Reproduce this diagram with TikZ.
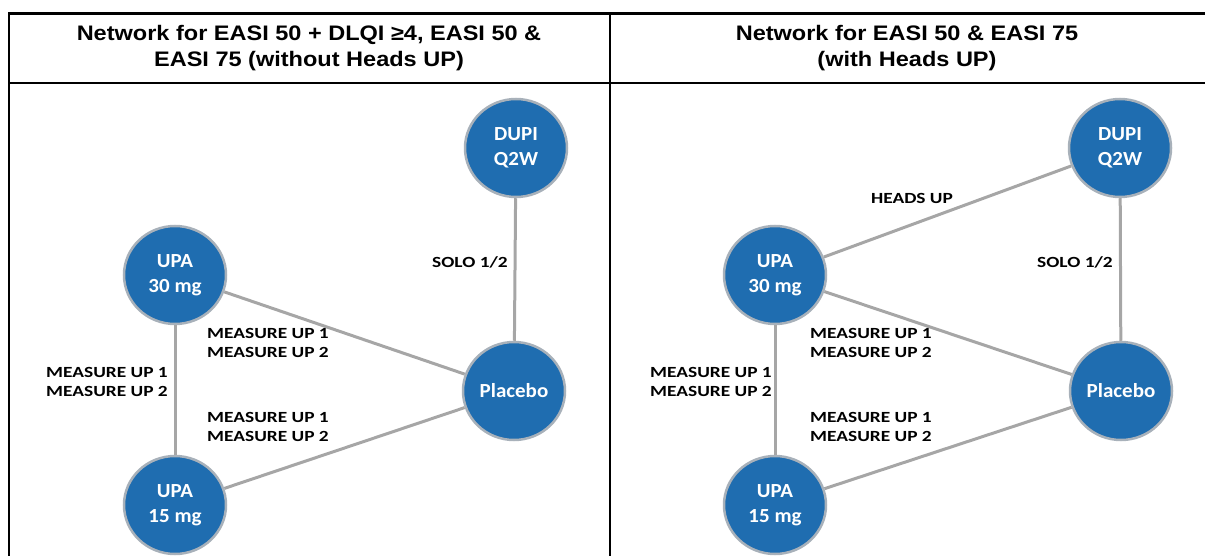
\documentclass[tikz,border=0pt]{standalone}
\usepackage{fontspec}
\setmainfont[FakeStretch=1.12]{Liberation Sans}
\newfontfamily\drugfont[FakeStretch=1.05]{Carlito}
\newfontfamily\lblfont[FakeStretch=1.25]{Carlito}
\usepackage{tikz}
\usetikzlibrary{shapes.geometric}
\definecolor{nodeblue}{HTML}{1F6DB0}
\definecolor{rimc}{HTML}{A8B1BA}
\definecolor{edgec}{HTML}{A6A6A6}
\newcommand{\drug}[3]{%
  \node[ellipse, draw=rimc, fill=nodeblue, line width=2.5pt,
        minimum width=102pt, minimum height=98pt, inner sep=0pt,
        text=white, align=center,
        font=\drugfont\bfseries\fontsize{20}{25}\selectfont] (#1) at #2 {#3};
}
\newcommand{\trial}[3]{%
  \node[align=center, font=\lblfont\bfseries\fontsize{15.5}{19.5}\selectfont,
        inner sep=0pt] (#1) at #2 {#3};
}

\begin{document}
\begin{tikzpicture}[x=1pt, y=-1pt, line width=3pt,
          head/.style={align=center, inner sep=0pt,
            font=\bfseries\fontsize{21}{26}\selectfont}]
        \useasboundingbox (0,0) rectangle (1205,556);
        % table frame
        \draw[line width=2.5pt] (9,556) -- (9,13.5) -- (1210,13.5);
        \draw[line width=2.5pt] (9,83) -- (1210,83);
        \draw[line width=2.5pt] (610,13.5) -- (610,556);
        \node[head] (headL) at (309,48) {Network for EASI 50 + DLQI ≥4, EASI 50 \&\\EASI 75 (without Heads UP)};
        \node[head] (headR) at (907,48) {Network for EASI 50 \& EASI 75\\(with Heads UP)};
        % left network
        \drug{dupiL}{(516,148)}{DUPI\\Q2W}
        \drug{plcL}{(514,391)}{Placebo}
        \drug{upa30L}{(175,275)}{UPA\\30 mg}
        \drug{upa15L}{(175,505)}{UPA\\15 mg}
        % right network
        \drug{dupiR}{(1120,148)}{DUPI\\Q2W}
        \drug{plcR}{(1121,391)}{Placebo}
        \drug{upa30R}{(775,275)}{UPA\\30 mg}
        \drug{upa15R}{(775,505)}{UPA\\15 mg}
        \foreach \s in {L,R} {
          \draw[edgec] (dupi\s) -- (plc\s);
          \draw[edgec] (upa30\s) -- (plc\s);
          \draw[edgec] (upa15\s) -- (plc\s);
          \draw[edgec] (upa30\s) -- (upa15\s);
        }
        \draw[edgec] (upa30R) -- (dupiR);
        % trial labels
        \trial{soloL}{(470,262)}{SOLO 1/2}
        \trial{mupL}{(268,343)}{MEASURE UP 1\\MEASURE UP 2}
        \trial{msideL}{(107,382)}{MEASURE UP 1\\MEASURE UP 2}
        \trial{mlowL}{(268,427)}{MEASURE UP 1\\MEASURE UP 2}
        \trial{headsR}{(912,198)}{HEADS UP}
        \trial{soloR}{(1075,262)}{SOLO 1/2}
        \trial{mupR}{(871,343)}{MEASURE UP 1\\MEASURE UP 2}
        \trial{msideR}{(711,382)}{MEASURE UP 1\\MEASURE UP 2}
        \trial{mlowR}{(871,427)}{MEASURE UP 1\\MEASURE UP 2}
      \end{tikzpicture}
\end{document}
